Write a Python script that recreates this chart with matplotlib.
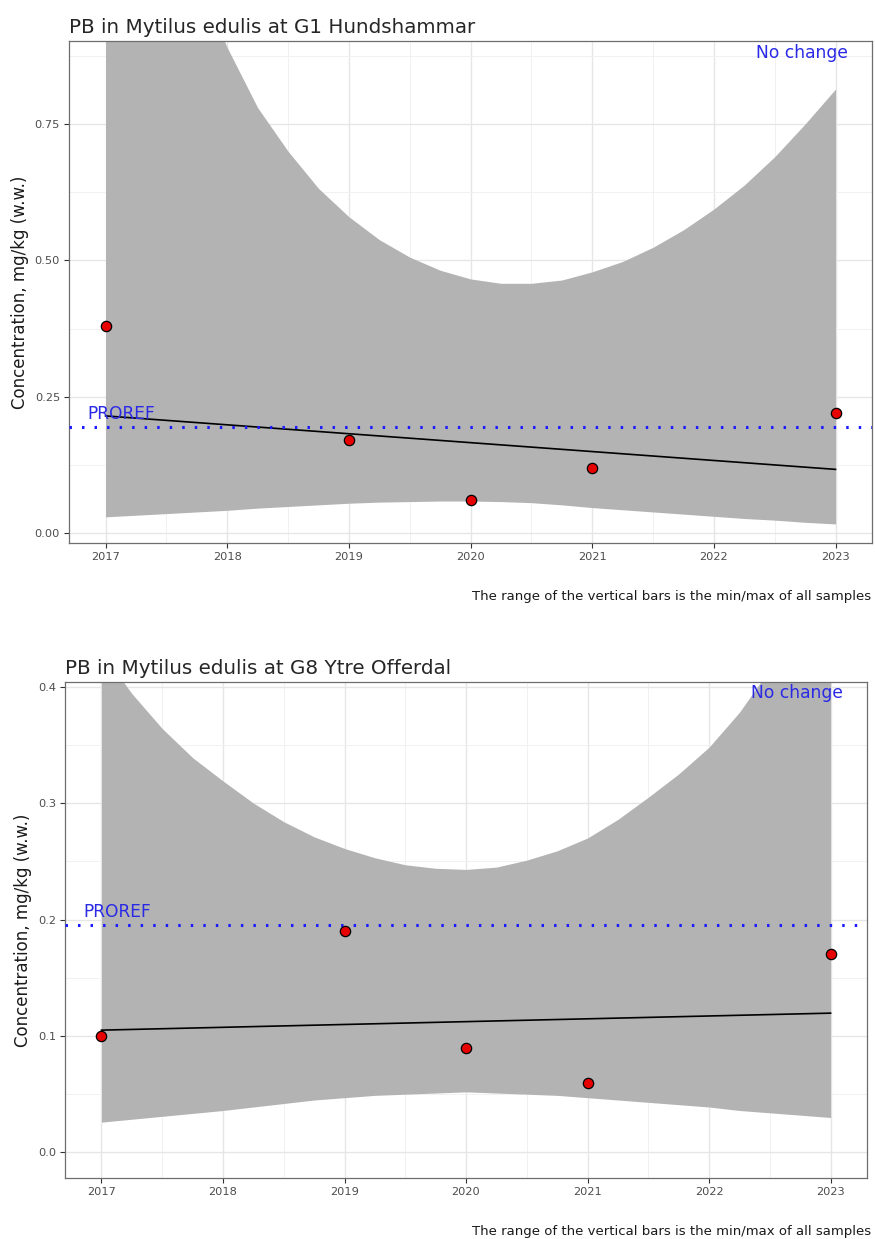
import numpy as np
import matplotlib
matplotlib.use("Agg")
import matplotlib.pyplot as plt
from matplotlib.ticker import MultipleLocator, FormatStrFormatter

plt.rcParams.update({"font.family": "DejaVu Sans"})

CAPTION = "The range of the vertical bars is the min/max of all samples"
PROREF = 0.195

# quarter-year grid the fitted band is read on
band_x = [2017, 2017.25, 2017.5, 2017.75, 2018, 2018.25, 2018.5, 2018.75,
          2019, 2019.25, 2019.5, 2019.75, 2020, 2020.25, 2020.5, 2020.75,
          2021, 2021.25, 2021.5, 2021.75, 2022, 2022.25, 2022.5, 2022.75, 2023]

# --- G1 Hundshammar
g1_title = "PB in Mytilus edulis at G1 Hundshammar"
g1_years = [2017, 2019, 2020, 2021, 2023]
g1_conc = [0.38, 0.17, 0.06, 0.12, 0.22]
g1_band_hi = [1.60, 1.38, 1.18, 1.02, 0.89, 0.78, 0.70, 0.632, 0.58, 0.538, 0.506, 0.482,
              0.466, 0.458, 0.458, 0.464, 0.479, 0.498, 0.524, 0.556, 0.594, 0.638, 0.690, 0.750, 0.814]
g1_band_lo = [0.030, 0.033, 0.036, 0.039, 0.042, 0.046, 0.049, 0.052, 0.055, 0.057, 0.058, 0.059,
              0.059, 0.058, 0.056, 0.052, 0.047, 0.043, 0.039, 0.035, 0.031, 0.027, 0.024, 0.020, 0.017]
g1_trend_x = [2017, 2023]
g1_trend = [0.215, 0.117]

# --- G8 Ytre Offerdal
g8_title = "PB in Mytilus edulis at G8 Ytre Offerdal"
g8_years = [2017, 2019, 2020, 2021, 2023]
g8_conc = [0.10, 0.19, 0.09, 0.06, 0.17]
g8_band_hi = [0.43, 0.394, 0.364, 0.339, 0.319, 0.300, 0.284, 0.271, 0.261, 0.253, 0.247, 0.244,
              0.243, 0.245, 0.251, 0.259, 0.270, 0.286, 0.305, 0.325, 0.348, 0.378, 0.415, 0.46, 0.51]
g8_band_lo = [0.026, 0.0285, 0.031, 0.0335, 0.036, 0.039, 0.042, 0.045, 0.047, 0.049, 0.050, 0.051,
              0.052, 0.051, 0.050, 0.049, 0.047, 0.045, 0.043, 0.041, 0.039, 0.036, 0.034, 0.032, 0.030]
g8_trend_x = [2017, 2023]
g8_trend = [0.105, 0.1196]


def panel(fig, rect, title, years, conc, hi, lo, tx, tr, ylim, ymaj, ydec, cap_y):
    ax = fig.add_axes(rect)
    ax.set_xlim(2016.7, 2023.3)
    ax.set_ylim(*ylim)
    ax.xaxis.set_major_locator(MultipleLocator(1))
    ax.xaxis.set_minor_locator(MultipleLocator(0.5))
    ax.yaxis.set_major_locator(MultipleLocator(ymaj))
    ax.yaxis.set_minor_locator(MultipleLocator(ymaj / 2))
    ax.yaxis.set_major_formatter(FormatStrFormatter("%%.%df" % ydec))
    ax.grid(which="major", color="#e6e6e6", lw=1.0)
    ax.grid(which="minor", color="#f1f1f1", lw=0.7)
    ax.set_axisbelow(True)
    for s in ax.spines.values():
        s.set_color("#6e6e6e"); s.set_linewidth(0.9)
    ax.tick_params(which="major", length=3.5, width=0.8, color="#333333",
                   labelsize=8.2, labelcolor="#4d4d4d", pad=3)
    ax.tick_params(which="minor", length=0)
    ax.fill_between(band_x, lo, hi, color="#b3b3b3", lw=0, zorder=2)
    ax.plot(tx, tr, color="black", lw=1.2, zorder=3)
    ax.axhline(PROREF, color="#1a1aff", lw=2.2, ls=(0, (0.8, 3.3)), zorder=4)
    ax.annotate("PROREF", (2016.85, PROREF), xytext=(0, 3), textcoords="offset points",
                color="#2a2ae6", fontsize=12.3, ha="left", va="bottom", zorder=5)
    ax.scatter(years, conc, s=55, color="#e60000", edgecolor="black", lw=0.9, zorder=6, clip_on=False)
    ax.text(0.97, 0.995, "No change", transform=ax.transAxes, color="#2a2ae6",
            fontsize=12.3, ha="right", va="top", zorder=7)
    ax.set_title(title, loc="left", fontsize=14.3, color="#262626", pad=6, x=0.0)
    ax.set_ylabel("Concentration, mg/kg (w.w.)", fontsize=12, color="#1a1a1a", labelpad=4)
    fig.text(0.996, cap_y, CAPTION, ha="right", va="center", fontsize=9.5, color="#1a1a1a")
    return ax


fig = plt.figure(figsize=(8.75, 12.39), dpi=100)
panel(fig, [0.0789, 0.5617, 0.9177, 0.4052], g1_title, g1_years, g1_conc,
      g1_band_hi, g1_band_lo, g1_trend_x, g1_trend,
      (-0.018, 0.902), 0.25, 2, 1 - 597 / 1239)
panel(fig, [0.0743, 0.0492, 0.9166, 0.4004], g8_title, g8_years, g8_conc,
      g8_band_hi, g8_band_lo, g8_trend_x, g8_trend,
      (-0.022, 0.404), 0.1, 1, 1 - 1231 / 1239)
fig.savefig("out.png", dpi=100)
